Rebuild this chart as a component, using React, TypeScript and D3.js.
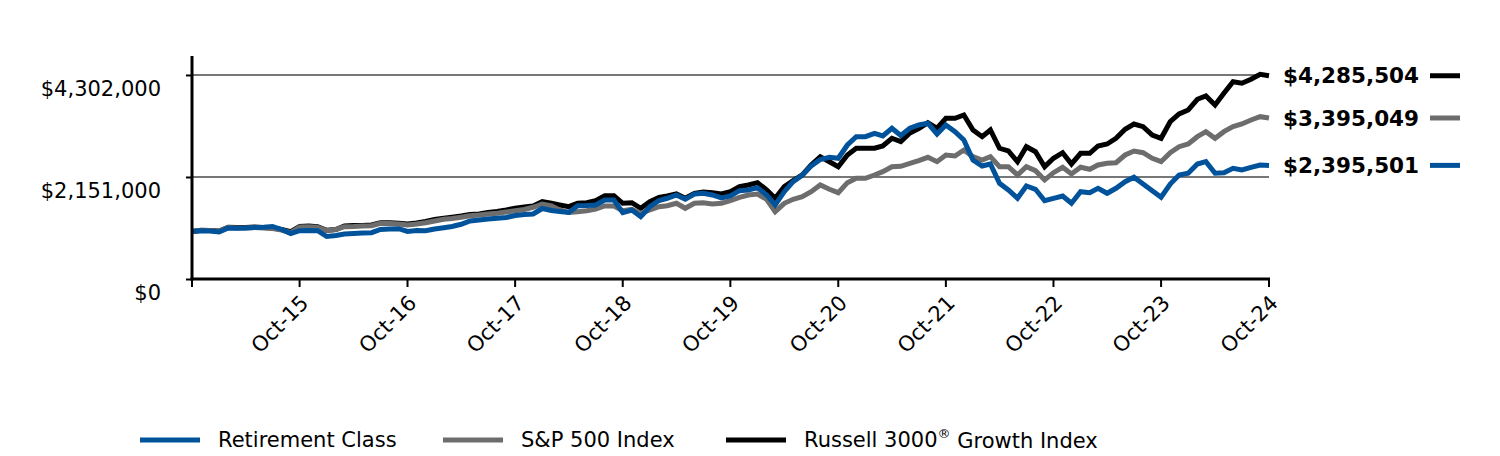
import { useEffect, useRef } from 'react';
import * as d3 from 'd3';

// monthly values, Oct-14 .. Oct-24 (growth of $1,000,000)
const retirementClass = [
  1000000, 1018500, 1012200, 991100, 1075500, 1069200, 1075500, 1086000, 1090200, 1107100, 1043900, 959500,
  1018500, 1022800, 1018500, 896200, 917300, 949000, 959500, 970000, 976400, 1043900, 1054400, 1060700,
  1001700, 1022800, 1018500, 1054400, 1081800, 1107100, 1153500, 1223100, 1244200, 1265300, 1280000, 1296900,
  1339100, 1360200, 1370700, 1486700, 1444500, 1423400, 1402400, 1545700, 1550000, 1560500, 1666000, 1666000,
  1398100, 1455100, 1313800, 1524700, 1655400, 1701800, 1771400, 1680700, 1792500, 1807200, 1771400, 1708100,
  1750300, 1862100, 1876800, 1925300, 1771400, 1560500, 1841000, 2051900, 2193200, 2382900, 2520000, 2566400,
  2545300, 2825800, 3000800, 3000800, 3072500, 3015600, 3178000, 3026100, 3178000, 3247600, 3283400, 3057800,
  3247600, 3106300, 2931200, 2509500, 2382900, 2425100, 2018100, 1876800, 1701800, 1961200, 1891600, 1651200,
  1701800, 1750300, 1596400, 1841000, 1819900, 1912700, 1807200, 1912700, 2051900, 2144700, 2003400, 1862100,
  1722900, 2003400, 2193200, 2229000, 2425100, 2473600, 2229000, 2241700, 2334400, 2298600, 2355500, 2404000,
  2395501,
];

const sp500 = [
  1000000, 1022800, 1022800, 1012200, 1086000, 1075500, 1075500, 1086000, 1075500, 1064900, 1033300, 976400,
  1096600, 1102900, 1090200, 1018500, 1043900, 1102900, 1107100, 1117700, 1124000, 1174600, 1170400, 1159800,
  1138800, 1159800, 1187300, 1223100, 1259000, 1275800, 1301100, 1334900, 1349600, 1370700, 1385500, 1412900,
  1440300, 1465600, 1512000, 1581600, 1539400, 1455100, 1402400, 1419200, 1440300, 1476200, 1539400, 1539400,
  1440300, 1469800, 1385500, 1455100, 1524700, 1545700, 1596400, 1490900, 1596400, 1609000, 1581600, 1596400,
  1651200, 1722900, 1771400, 1792500, 1680700, 1419200, 1596400, 1680700, 1735500, 1841000, 1982300, 1891600,
  1819900, 2030800, 2123600, 2123600, 2193200, 2262700, 2368200, 2376600, 2435700, 2494700, 2566400, 2473600,
  2614900, 2593800, 2720400, 2579100, 2509500, 2579100, 2368200, 2368200, 2193200, 2368200, 2283800, 2087700,
  2241700, 2355500, 2214200, 2355500, 2313400, 2404000, 2439900, 2452500, 2614900, 2699300, 2663400, 2545300,
  2473600, 2663400, 2789900, 2846900, 3000800, 3106300, 2967100, 3106300, 3211700, 3268600, 3353000, 3422600,
  3395049,
];

const russell3000Growth = [
  1000000, 1027000, 1022800, 1012200, 1090200, 1086000, 1086000, 1096600, 1086000, 1075500, 1043900, 997500,
  1107100, 1117700, 1102900, 1027000, 1043900, 1117700, 1128200, 1128200, 1138800, 1187300, 1187300, 1174600,
  1159800, 1180900, 1212600, 1254700, 1280000, 1301100, 1328500, 1360200, 1370700, 1402400, 1423400, 1455100,
  1490900, 1518300, 1539400, 1630100, 1596400, 1560500, 1524700, 1596400, 1609000, 1651200, 1756600, 1756600,
  1596400, 1609000, 1490900, 1630100, 1722900, 1750300, 1792500, 1701800, 1807200, 1834700, 1819900, 1792500,
  1841000, 1946400, 1982300, 2030800, 1876800, 1701800, 1946400, 2072900, 2193200, 2404000, 2579100, 2473600,
  2368200, 2614900, 2756200, 2756200, 2756200, 2804700, 2967100, 2895400, 3078800, 3173700, 3296100, 3178000,
  3388900, 3388900, 3458400, 3142100, 3000800, 3142100, 2756200, 2699300, 2473600, 2789900, 2684500, 2368200,
  2545300, 2663400, 2425100, 2650800, 2650800, 2804700, 2846900, 2967100, 3156900, 3268600, 3211700, 3036700,
  2967100, 3317100, 3479500, 3563900, 3789500, 3859100, 3669300, 3916100, 4160700, 4126900, 4211200, 4316700,
  4285504,
];

const seriesNames = ['Retirement Class', 'S&P 500 Index', 'Russell 3000 Growth Index'];
const seriesColors = ['#00539b', '#6d6d6d', '#000000'];
const endLabels = ['$2,395,501', '$3,395,049', '$4,285,504'];

const yTicks = [0, 2151000, 4302000];
const yMax = 4702000;
const xTickLabels = ['Oct-15', 'Oct-16', 'Oct-17', 'Oct-18', 'Oct-19', 'Oct-20', 'Oct-21', 'Oct-22', 'Oct-23', 'Oct-24'];

const WIDTH = 1500;
const HEIGHT = 456;

export default function App() {
  const svgRef = useRef<SVGSVGElement>(null);

  useEffect(() => {
    if (!svgRef.current) return;
    const svg = d3.select(svgRef.current);
    svg.selectAll('*').remove();

    const font = '"DejaVu Sans", Verdana, sans-serif';
    const margin = { top: 56, left: 192, right: 231, bottom: 177 };
    const innerW = WIDTH - margin.left - margin.right;
    const innerH = HEIGHT - margin.top - margin.bottom;

    const start = new Date(2014, 9, 1);
    const dates = retirementClass.map((_, i) => d3.timeMonth.offset(start, i));

    const x = d3.scaleTime()
      .domain([dates[0], dates[dates.length - 1]])
      .range([0, innerW]);
    const y = d3.scaleLinear().domain([0, yMax]).range([innerH, 0]);

    const g = svg.append('g').attr('transform', `translate(${margin.left},${margin.top})`);

    // gridlines
    g.selectAll('line.grid')
      .data(yTicks.filter(d => d > 0))
      .enter().append('line')
      .attr('class', 'grid')
      .attr('x1', 0).attr('x2', innerW)
      .attr('y1', d => y(d)).attr('y2', d => y(d))
      .attr('stroke', '#777777')
      .attr('stroke-width', 2);

    // y axis
    const yAxis = g.append('g')
      .call(d3.axisLeft(y).tickValues(yTicks).tickSize(6).tickFormat(() => ''));
    yAxis.select('.domain').remove();
    yAxis.selectAll('line').attr('stroke', '#000').attr('stroke-width', 2);

    g.selectAll('text.ylab')
      .data(yTicks)
      .enter().append('text')
      .attr('class', 'ylab')
      .attr('x', -31)
      .attr('y', d => y(d) + 14)
      .attr('dy', '0.35em')
      .attr('text-anchor', 'end')
      .attr('font-family', font)
      .attr('font-size', 21)
      .attr('fill', '#000')
      .text(d => d3.format('$,')(d));

    // x axis ticks
    const tickDates = [dates[0], ...xTickLabels.map((_, i) => dates[(i + 1) * 12])];
    g.selectAll('line.xtick')
      .data(tickDates)
      .enter().append('line')
      .attr('class', 'xtick')
      .attr('x1', d => x(d)).attr('x2', d => x(d))
      .attr('y1', innerH).attr('y2', innerH + 8)
      .attr('stroke', '#000')
      .attr('stroke-width', 2);

    g.selectAll('text.xlab')
      .data(xTickLabels)
      .enter().append('text')
      .attr('class', 'xlab')
      .attr('transform', (_, i) => `translate(${x(dates[(i + 1) * 12]) + 5},${innerH + 20}) rotate(-45)`)
      .attr('text-anchor', 'end')
      .attr('dy', '0.35em')
      .attr('font-family', font)
      .attr('font-size', 21)
      .attr('fill', '#000')
      .text(d => d);

    // lines (black first, blue on top)
    const allSeries = [retirementClass, sp500, russell3000Growth];
    const line = d3.line<number>()
      .x((_, i) => x(dates[i]))
      .y(d => y(d));

    [2, 1, 0].forEach(k => {
      g.append('path')
        .datum(allSeries[k])
        .attr('fill', 'none')
        .attr('stroke', seriesColors[k])
        .attr('stroke-width', 5)
        .attr('stroke-linejoin', 'miter')
        .attr('d', line);
    });

    // axis lines
    g.append('line')
      .attr('x1', 0).attr('x2', 0)
      .attr('y1', 0).attr('y2', innerH + 1.5)
      .attr('stroke', '#000').attr('stroke-width', 3);
    g.append('line')
      .attr('x1', -1.5).attr('x2', innerW + 1)
      .attr('y1', innerH).attr('y2', innerH)
      .attr('stroke', '#000').attr('stroke-width', 3);

    // end labels
    allSeries.forEach((s, k) => {
      const last = s[s.length - 1];
      const ly = y(last);
      g.append('text')
        .attr('x', innerW + 14)
        .attr('y', ly)
        .attr('dy', '0.35em')
        .attr('font-family', font)
        .attr('font-size', 21.5)
        .attr('font-weight', 'bold')
        .attr('fill', '#000')
        .text(endLabels[k]);
      g.append('line')
        .attr('x1', innerW + 161).attr('x2', innerW + 191)
        .attr('y1', ly).attr('y2', ly)
        .attr('stroke', seriesColors[k])
        .attr('stroke-width', 5);
    });

    // legend
    const legendX = [140, 443, 726];
    const legY = 440;
    seriesNames.forEach((name, k) => {
      svg.append('line')
        .attr('x1', legendX[k]).attr('x2', legendX[k] + 60)
        .attr('y1', legY).attr('y2', legY)
        .attr('stroke', seriesColors[k])
        .attr('stroke-width', 5);
      const t = svg.append('text')
        .attr('x', legendX[k] + 78)
        .attr('y', legY)
        .attr('dy', '0.35em')
        .attr('font-family', font)
        .attr('font-size', 21)
        .attr('fill', '#000');
      if (k === 2) {
        t.append('tspan').text('Russell 3000');
        t.append('tspan').attr('font-size', 13).attr('dy', '-0.75em').text('®');
        t.append('tspan').attr('dy', '0.5em').text(' Growth Index');
      } else {
        t.text(name);
      }
    });
  }, []);

  return (
    <div style={{ position: 'absolute', left: 0, top: 0, width: WIDTH, height: HEIGHT, background: '#fff' }}>
      <svg ref={svgRef} width={WIDTH} height={HEIGHT} style={{ display: 'block' }} />
    </div>
  );
}
